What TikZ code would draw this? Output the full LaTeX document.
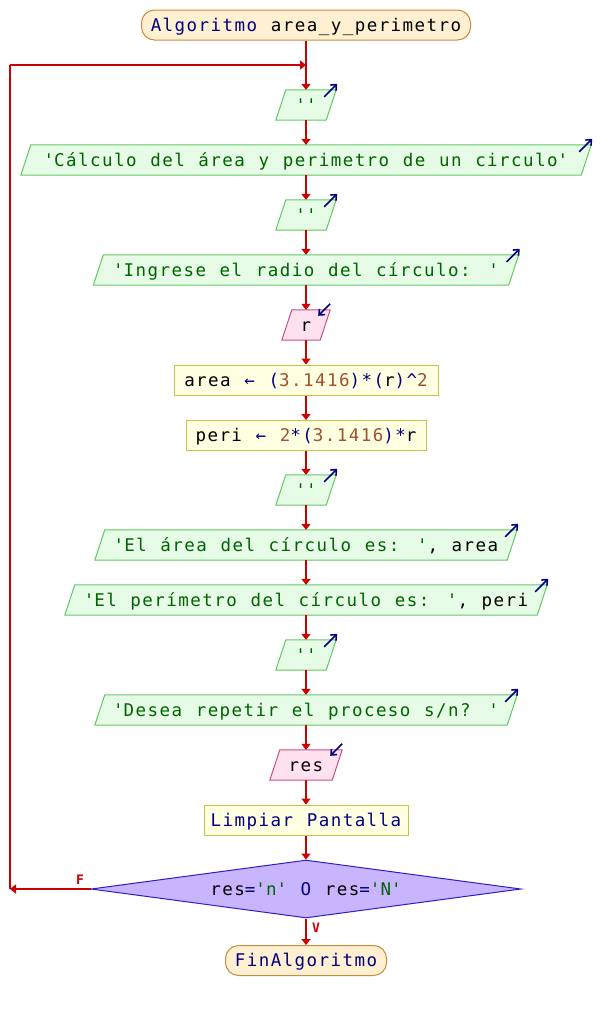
\documentclass[tikz,border=0pt]{standalone}
\usepackage{fontspec}
\newfontfamily\mono[LetterSpace=8.3,WordSpace=1.1385]{DejaVu Sans Mono}
\newfontfamily\monob{DejaVu Sans Mono Bold}
\usetikzlibrary{arrows.meta,backgrounds,shapes.geometric}
\definecolor{kwc}{RGB}{0,0,128}
\definecolor{stc}{RGB}{0,100,0}
\definecolor{nmc}{RGB}{160,82,45}
\definecolor{flowc}{RGB}{204,0,0}
\definecolor{outfill}{RGB}{230,252,230}
\definecolor{outdraw}{RGB}{100,200,100}
\definecolor{infill}{RGB}{255,225,240}
\definecolor{indraw}{RGB}{200,80,130}
\definecolor{procfill}{RGB}{255,255,225}
\definecolor{procdraw}{RGB}{200,195,70}
\definecolor{termfill}{RGB}{255,240,210}
\definecolor{termdraw}{RGB}{200,140,60}
\definecolor{diafill}{RGB}{200,180,255}
\definecolor{diadraw}{RGB}{50,30,200}
\newcommand\ckw[1]{\textcolor{kwc}{#1}}
\newcommand\cst[1]{\textcolor{stc}{#1}}
\newcommand\cnm[1]{\textcolor{nmc}{#1}}
\newcommand\q{\textquotesingle}
\newcommand\outpara[1]{\path[outshape] ([xshift=10pt]#1.north west) -- (#1.north east) -- ([xshift=-10pt]#1.south east) -- (#1.south west) -- cycle;}
\newcommand\inpara[1]{\path[inshape] ([xshift=10pt]#1.north west) -- (#1.north east) -- ([xshift=-10pt]#1.south east) -- (#1.south west) -- cycle;}
\newcommand\outicon[1]{\draw[icon] ([shift={(-12,7)}]#1.north east) -- ([shift={(1,-6)}]#1.north east);}
\newcommand\inicon[1]{\draw[icon] ([shift={(0,-6)}]#1.north east) -- ([shift={(-12,6)}]#1.north east);}
\tikzset{
  base/.style={font=\fontsize{17.5}{20}\mono, inner sep=0pt, minimum height=30pt, text height=12.7pt, text depth=0pt},
  outbox/.style={base},
  inbox/.style={base},
  outshape/.style={fill=outfill, draw=outdraw, line width=1pt},
  inshape/.style={fill=infill, draw=indraw, line width=1pt},
  proc/.style={base, rectangle, fill=procfill, draw=procdraw, line width=1pt},
  term/.style={base, rectangle, rounded corners=13pt, fill=termfill, draw=termdraw, line width=1pt},
  dec/.style={base, diamond, aspect=7.4, minimum width=430pt, minimum height=58pt, fill=diafill, draw=diadraw, line width=1pt},
  flow/.style={draw=flowc, line width=2pt, -{Triangle[length=6pt,width=9pt]}},
  flowline/.style={draw=flowc, line width=2pt},
  icon/.style={draw=kwc, line width=1.6pt, -{Straight Barb[length=4.5pt,width=8pt]}},
  lbl/.style={font=\fontsize{13}{14}\monob, text=flowc, inner sep=0pt}
}
\begin{document}
\begin{tikzpicture}[x=1pt,y=-1pt]
\useasboundingbox (0,0) rectangle (612,1010);

\node[term, minimum width=329pt] (start) at (306,25) {\ckw{Algoritmo} area\_y\_perimetro};
\node[outbox, minimum width=60pt] (o1) at (306,105) {\cst{\q\q}};
\node[outbox, minimum width=570pt] (o2) at (306,160) {\cst{\q Cálculo del área y perimetro de un circulo\q}};
\node[outbox, minimum width=60pt] (o3) at (306,215) {\cst{\q\q}};
\node[outbox, minimum width=425pt] (o4) at (306,270) {\cst{\q Ingrese el radio del círculo: \q}};
\node[inbox, minimum width=48pt] (i1) at (306,325) {r};
\node[proc, minimum width=264pt] (p1) at (306,380) {area \ckw{←} \ckw{(}\cnm{3.1416}\ckw{)*(}r\ckw{)\textasciicircum}\cnm{2}};
\node[proc, minimum width=240pt] (p2) at (306,435.5) {peri \ckw{←} \cnm{2}\ckw{*(}\cnm{3.1416}\ckw{)*}r};
\node[outbox, minimum width=60pt] (o5) at (306,490) {\cst{\q\q}};
\node[outbox, minimum width=422pt] (o6) at (306,545) {\cst{\q El área del círculo es: \q}, area};
\node[outbox, minimum width=482pt] (o7) at (306,600) {\cst{\q El perímetro del círculo es: \q}, peri};
\node[outbox, minimum width=60pt] (o8) at (306,655) {\cst{\q\q}};
\node[outbox, minimum width=422pt] (o9) at (306,710) {\cst{\q Desea repetir el proceso s/n? \q}};
\node[inbox, minimum width=72pt] (i2) at (306,765) {res};
\node[proc, minimum width=204pt] (p3) at (306,820) {\ckw{Limpiar Pantalla}};
\node[dec] (dia) at (306,889) {res\ckw{=}\cst{\q n\q} \ckw{O} res\ckw{=}\cst{\q N\q}};
\node[term, minimum width=161pt] (fin) at (306,960.5) {\ckw{FinAlgoritmo}};

\begin{scope}[on background layer]
\fill[white] (0,0) rectangle (612,1010);
\outpara{o1}\outpara{o2}\outpara{o3}\outpara{o4}
\inpara{i1}
\outpara{o5}\outpara{o6}\outpara{o7}\outpara{o8}\outpara{o9}
\inpara{i2}
\end{scope}

\outicon{o1}\outicon{o2}\outicon{o3}\outicon{o4}
\inicon{i1}
\outicon{o5}\outicon{o6}\outicon{o7}\outicon{o8}\outicon{o9}
\inicon{i2}

\coordinate (lb) at (10,889);
\coordinate (lt) at (10,65);
\coordinate (lj) at (306,65);

\draw[flow] (start.south) -- (o1.north);
\draw[flow] (o1.south) -- (o2.north);
\draw[flow] (o2.south) -- (o3.north);
\draw[flow] (o3.south) -- (o4.north);
\draw[flow] (o4.south) -- (i1.north);
\draw[flow] (i1.south) -- (p1.north);
\draw[flow] (p1.south) -- (p2.north);
\draw[flow] (p2.south) -- (o5.north);
\draw[flow] (o5.south) -- (o6.north);
\draw[flow] (o6.south) -- (o7.north);
\draw[flow] (o7.south) -- (o8.north);
\draw[flow] (o8.south) -- (o9.north);
\draw[flow] (o9.south) -- (i2.north);
\draw[flow] (i2.south) -- (p3.north);
\draw[flow] (p3.south) -- (dia.north);
\draw[flow] (dia.south) -- (fin.north);
\draw[flow] (dia.west) -- (lb);
\draw[flowline] (lb) -- (lt);
\draw[flow] (lt) -- (lj);

\node[lbl] (lf) at (80,880) {F};
\node[lbl] (lv) at (316,928) {V};
\end{tikzpicture}
\end{document}
